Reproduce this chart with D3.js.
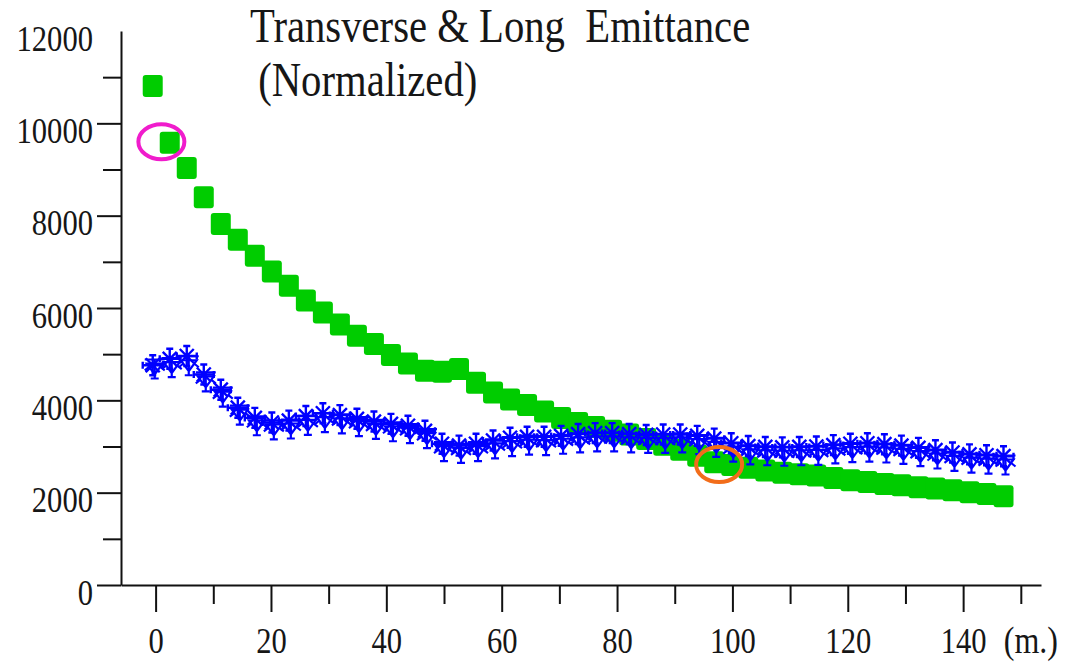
<!DOCTYPE html>
<html>
<head>
<meta charset="utf-8">
<script src="https://cdn.jsdelivr.net/npm/d3@7"></script>
<style>
  body { margin: 0; background: #fff; }
  svg text { font-family: 'Liberation Serif', 'Times New Roman', serif; fill: #161616; }
</style>
</head>
<body>
<div id="graf"></div>
<script>
const posiciones = [
  -0.5, 2.45, 5.4, 8.35, 11.3, 14.25, 17.2, 20.15, 23.1, 26.05, 29.0, 31.95, 34.9,
  37.85, 40.8, 43.75, 46.7, 49.65, 52.6, 55.55, 58.5, 61.45, 64.4, 67.35, 70.3,
  73.25, 76.2, 79.15, 82.1, 85.05, 88.0, 90.95, 93.9, 96.85, 99.8, 102.75, 105.7,
  108.65, 111.6, 114.55, 117.5, 120.45, 123.4, 126.35, 129.3, 132.25, 135.2,
  138.15, 141.1, 144.05, 147.0,
]

const longitudinal = [
  10810, 9580, 9030, 8400, 7820, 7480, 7130, 6790, 6480, 6160, 5900, 5640, 5400,
  5220, 4980, 4800, 4640, 4620, 4680, 4380, 4170, 4020, 3900, 3760, 3620, 3510,
  3420, 3340, 3260, 3160, 3040, 2930, 2800, 2660, 2600, 2540, 2480, 2430, 2400,
  2370, 2320, 2270, 2230, 2190, 2160, 2120, 2090, 2050, 2010, 1970, 1920,
]

const transX = [
  4760, 4900, 4960, 4560, 4230, 3840, 3620, 3520, 3560, 3660, 3720, 3680, 3600,
  3540, 3490, 3450, 3340, 3060, 3020, 3060, 3130, 3190, 3210, 3210, 3230, 3270,
  3290, 3290, 3270, 3250, 3260, 3260, 3230, 3170, 3070, 3010, 2990, 2980, 2990,
  3000, 3030, 3060, 3070, 3050, 3020, 2970, 2920, 2870, 2830, 2810, 2790,
]

const transY = [
  4690, 4720, 4760, 4410, 4080, 3690, 3460, 3370, 3390, 3470, 3530, 3500, 3440,
  3380, 3330, 3290, 3180, 2900, 2860, 2900, 2960, 3010, 3040, 3030, 3060, 3090,
  3110, 3110, 3090, 3080, 3080, 3090, 3050, 2990, 2890, 2830, 2810, 2800, 2810,
  2820, 2850, 2880, 2890, 2870, 2840, 2790, 2740, 2690, 2650, 2630, 2610,
]

const yMayores = [0, 2000, 4000, 6000, 8000, 10000, 12000]
const yMenores = [1000, 3000, 5000, 7000, 9000, 11000]
const xMayores = [0, 20, 40, 60, 80, 100, 120, 140]
const xMenores = [10, 30, 50, 70, 90, 110, 130, 150]

const titulo = ['Transverse & Long  Emittance', ' (Normalized)']
const unidad = '(m.)'

const marcas = [
  { x: 1.0, y: 9600, color: '#f01ccc' },
  { x: 97.7, y: 2610, color: '#f26d1a' },
]

const anchoTotal = 1072
const altoTotal = 663

const svg = d3
  .select('#graf')
  .append('svg')
  .attr('width', anchoTotal)
  .attr('height', altoTotal)

const x = d3.scaleLinear().domain([-6, 153.5]).range([121, 1041])
const y = d3.scaleLinear().domain([0, 12000]).range([585, 31])

const estira = 'scale(1, 1.2)'

// eje y: menores primero, luego mayores con texto
svg.append('g')
  .attr('transform', 'translate(121, 0)')
  .call(d3.axisLeft(y).tickValues(yMenores).tickSize(18).tickSizeOuter(0).tickFormat(''))
  .call((g) => g.select('.domain').remove())

const ejeY = svg.append('g')
  .attr('transform', 'translate(121, 0)')
  .call(d3.axisLeft(y).tickValues(yMayores).tickSize(24).tickSizeOuter(0).tickFormat(d3.format('d')))

ejeY.selectAll('.tick line').filter((d) => d === 12000).attr('x2', 0)
ejeY.selectAll('.tick text')
  .attr('x', null)
  .attr('dy', null)
  .attr('font-size', 30.6)
  .attr('transform', `translate(-28, 19) ${estira}`)

svg.append('g')
  .attr('transform', 'translate(0, 585)')
  .call(d3.axisBottom(x).tickValues(xMenores).tickSize(19).tickSizeOuter(0).tickFormat(''))
  .call((g) => g.select('.domain').remove())

const ejeX = svg.append('g')
  .attr('transform', 'translate(0, 585)')
  .call(d3.axisBottom(x).tickValues(xMayores).tickSize(27).tickSizeOuter(0).tickFormat(d3.format('d')))

ejeX.selectAll('.tick text')
  .attr('y', null)
  .attr('dy', null)
  .attr('font-size', 30.6)
  .attr('transform', `translate(0, 68) ${estira}`)

svg.selectAll('.domain, .tick line').attr('stroke', '#111').attr('stroke-width', 2)

svg.append('text')
  .attr('text-anchor', 'end')
  .attr('font-size', 32)
  .attr('transform', `translate(1058, 653) ${estira}`)
  .text(unidad)

svg.selectAll('.titulo')
  .data(titulo)
  .join('text')
  .attr('class', 'titulo')
  .attr('font-size', 40.7)
  .attr('xml:space', 'preserve')
  .style('white-space', 'pre')
  .attr('transform', (d, i) => `translate(${i === 0 ? 250 : 248}, ${i === 0 ? 42 : 96}) scale(1, 1.17)`)
  .text((d) => d)

const verde = posiciones.map((p, i) => ({ x: p, y: longitudinal[i] }))
const azulX = posiciones.map((p, i) => ({ x: p, y: transX[i] }))
const azulY = posiciones.map((p, i) => ({ x: p, y: transY[i] }))

svg.append('g')
  .selectAll('rect')
  .data(verde)
  .join('rect')
  .attr('x', (d) => x(d.x) - 10)
  .attr('y', (d) => y(d.y) - 11)
  .attr('width', 20)
  .attr('height', 22)
  .attr('rx', 3)
  .attr('fill', '#00cc00')

const asterisco =
  'M0,-10V10M-10,0H10M-7,-7L7,7M-7,7L7,-7' +
  'M-3.5,-10H3.5M-3.5,10H3.5M-10,-3.5V3.5M10,-3.5V3.5'
const triangulo =
  'M-8,-5H8L0,6Z M0,-10V10 M-10,-9H10 M-4,10H4 M-10,2L-5,-2 M10,2L5,-2'

svg.append('g')
  .selectAll('path')
  .data(azulY)
  .join('path')
  .attr('d', triangulo)
  .attr('transform', (d) => `translate(${x(d.x) + 2}, ${y(d.y)})`)
  .attr('fill', 'none')
  .attr('stroke', '#0000ff')
  .attr('stroke-width', 2.2)

svg.append('g')
  .selectAll('path')
  .data(azulX)
  .join('path')
  .attr('d', asterisco)
  .attr('transform', (d) => `translate(${x(d.x)}, ${y(d.y)})`)
  .attr('fill', 'none')
  .attr('stroke', '#0000ff')
  .attr('stroke-width', 2.4)

svg.append('g')
  .selectAll('ellipse')
  .data(marcas)
  .join('ellipse')
  .attr('cx', (d) => x(d.x))
  .attr('cy', (d) => y(d.y))
  .attr('rx', 23)
  .attr('ry', 17.5)
  .attr('fill', 'none')
  .attr('stroke', (d) => d.color)
  .attr('stroke-width', 4)
</script>
</body>
</html>
